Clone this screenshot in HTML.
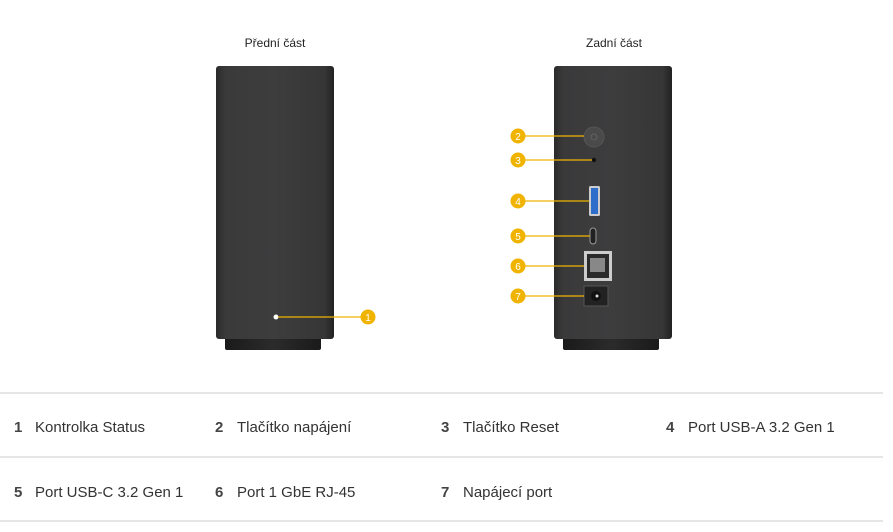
<!DOCTYPE html>
<html><head><meta charset="utf-8"><style>
body{margin:0;width:893px;height:527px;background:#fff;overflow:hidden;font-family:"Liberation Sans",sans-serif;}
</style></head><body>
<svg width="893" height="527" xmlns="http://www.w3.org/2000/svg">
<defs>
<linearGradient id="bd" x1="0" x2="1" y1="0" y2="0">
<stop offset="0" stop-color="#2a2a2b"/><stop offset="0.08" stop-color="#3a3a3b"/><stop offset="0.5" stop-color="#3d3d3e"/><stop offset="0.92" stop-color="#363637"/><stop offset="1" stop-color="#222"/>
</linearGradient>
<linearGradient id="bs" x1="0" x2="1"><stop offset="0" stop-color="#1a1a1a"/><stop offset="0.5" stop-color="#2b2b2b"/><stop offset="1" stop-color="#1a1a1a"/></linearGradient>
</defs>
<text x="275" y="47" font-size="12" text-anchor="middle" fill="#222">Přední část</text>
<text x="614" y="47" font-size="12" text-anchor="middle" fill="#222">Zadní část</text>
<!-- front -->
<rect x="225" y="336" width="96" height="14" rx="2" fill="url(#bs)"/>
<rect x="216" y="66" width="118" height="273" rx="3" fill="url(#bd)"/>
<circle cx="276" cy="317" r="2.5" fill="#fff"/>
<line x1="278" y1="317" x2="362" y2="317" stroke="#f0b400" stroke-width="1.2"/>
<circle cx="368" cy="317" r="7.5" fill="#f0b400"/><text x="368" y="321" font-size="10" fill="#fff" text-anchor="middle">1</text>
<!-- back -->
<rect x="563" y="336" width="96" height="14" rx="2" fill="url(#bs)"/>
<rect x="554" y="66" width="118" height="273" rx="3" fill="url(#bd)"/>
<circle cx="594" cy="137" r="10" fill="#4a4a4b" stroke="#555" stroke-width="1"/>
<circle cx="594" cy="137" r="3" fill="none" stroke="#666" stroke-width="0.8"/>
<circle cx="594" cy="160" r="2.2" fill="#111"/>
<rect x="589" y="186" width="11" height="30" rx="1.5" fill="#ccc"/><rect x="591" y="188" width="7" height="26" fill="#2e6dc9"/>
<rect x="590" y="228" width="6" height="16" rx="3" fill="#222" stroke="#999" stroke-width="1"/>
<rect x="584" y="251" width="28" height="30" fill="#ccc"/><rect x="587" y="254" width="22" height="24" fill="#2a2a2a"/><rect x="590" y="258" width="15" height="14" fill="#888"/>
<rect x="584" y="286" width="24" height="20" fill="#222" stroke="#555" stroke-width="1"/><circle cx="596" cy="296" r="5" fill="#111"/><circle cx="597" cy="296" r="1.5" fill="#ddd"/>
<g stroke="#f0b400" stroke-width="1.2">
<line x1="518" y1="136" x2="584" y2="136"/><line x1="518" y1="160" x2="592" y2="160"/>
<line x1="518" y1="201" x2="589" y2="201"/><line x1="518" y1="236" x2="590" y2="236"/>
<line x1="518" y1="266" x2="584" y2="266"/><line x1="518" y1="296" x2="584" y2="296"/>
</g>
<g fill="#f0b400">
<circle cx="518" cy="136" r="7.5"/><circle cx="518" cy="160" r="7.5"/><circle cx="518" cy="201" r="7.5"/>
<circle cx="518" cy="236" r="7.5"/><circle cx="518" cy="266" r="7.5"/><circle cx="518" cy="296" r="7.5"/>
</g>
<g font-size="10" fill="#fff" text-anchor="middle">
<text x="518" y="140">2</text><text x="518" y="164">3</text><text x="518" y="205">4</text>
<text x="518" y="240">5</text><text x="518" y="270">6</text><text x="518" y="300">7</text>
</g>
<!-- table -->
<g stroke="#d6d6d6" stroke-width="1.3">
<line x1="0" y1="393" x2="883" y2="393"/><line x1="0" y1="457" x2="883" y2="457"/><line x1="0" y1="521" x2="883" y2="521"/>
</g>
<g font-size="15" fill="#333">
<text x="14" y="432" font-weight="bold" fill="#444">1</text><text x="35" y="432">Kontrolka Status</text>
<text x="215" y="432" font-weight="bold" fill="#444">2</text><text x="237" y="432">Tlačítko napájení</text>
<text x="441" y="432" font-weight="bold" fill="#444">3</text><text x="463" y="432">Tlačítko Reset</text>
<text x="666" y="432" font-weight="bold" fill="#444">4</text><text x="688" y="432">Port USB-A 3.2 Gen 1</text>
<text x="14" y="497" font-weight="bold" fill="#444">5</text><text x="35" y="497">Port USB-C 3.2 Gen 1</text>
<text x="215" y="497" font-weight="bold" fill="#444">6</text><text x="237" y="497">Port 1 GbE RJ-45</text>
<text x="441" y="497" font-weight="bold" fill="#444">7</text><text x="463" y="497">Napájecí port</text>
</g>
</svg>
</body></html>
